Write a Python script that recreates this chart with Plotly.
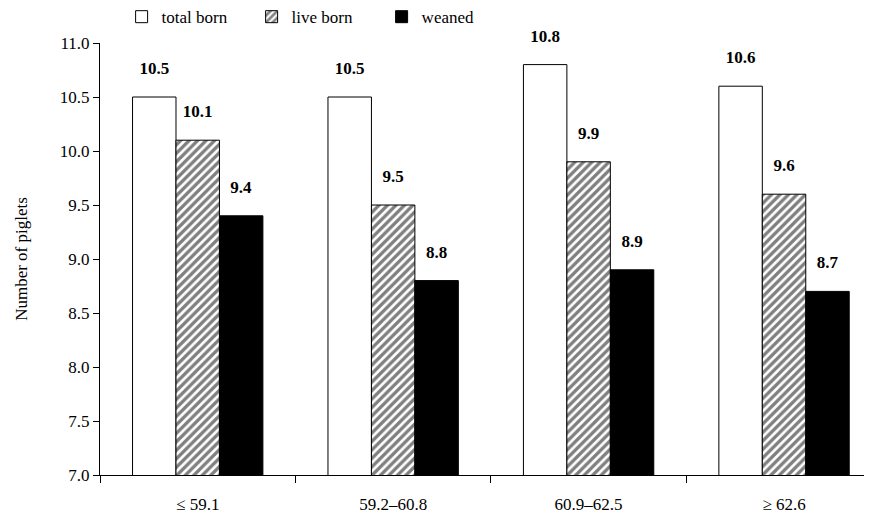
import plotly.graph_objects as go

categories = ["≤ 59.1", "59.2–60.8", "60.9–62.5", "≥ 62.6"]
total_born = [10.5, 10.5, 10.8, 10.6]
live_born = [10.1, 9.5, 9.9, 9.6]
weaned = [9.4, 8.8, 8.9, 8.7]
y_ticks = [7.0, 7.5, 8.0, 8.5, 9.0, 9.5, 10.0, 10.5, 11.0]

FONT = "Liberation Serif"

def labels(vals):
    return [f"<span style='font-size:17px'><b>{v:.1f}</b></span><br> " for v in vals]

label_font = dict(family=FONT, size=13, color="black")

fig = go.Figure()
fig.add_trace(go.Bar(
    name="total born", x=categories, y=total_born,
    marker=dict(color="white", line=dict(color="black", width=1)),
    text=labels(total_born), textposition="outside", cliponaxis=False,
    textfont=label_font,
))
fig.add_trace(go.Bar(
    name="live born", x=categories, y=live_born,
    marker=dict(color="white", line=dict(color="black", width=1),
                pattern=dict(shape="/", fgcolor="black", bgcolor="white",
                             size=6, solidity=0.55, fillmode="overlay")),
    text=labels(live_born), textposition="outside", cliponaxis=False,
    textfont=label_font,
))
fig.add_trace(go.Bar(
    name="weaned", x=categories, y=weaned,
    marker=dict(color="black", line=dict(color="black", width=1)),
    text=labels(weaned), textposition="outside", cliponaxis=False,
    textfont=label_font,
))

fig.update_layout(
    width=864, height=507,
    margin=dict(l=92, r=0, t=35, b=40, autoexpand=False),
    paper_bgcolor="white", plot_bgcolor="white",
    barmode="group", bargap=0.333, bargroupgap=0,
    font=dict(family=FONT, size=17, color="black"),
    legend=dict(orientation="h", x=0.028, y=0.982, yref="container",
                xanchor="left", yanchor="middle",
                font=dict(family=FONT, size=17), entrywidth=85, entrywidthmode="pixels",
                itemwidth=30, traceorder="normal", bgcolor="rgba(0,0,0,0)"),
    showlegend=True,
)
fig.update_traces(constraintext="none")
fig.update_xaxes(
    type="category", range=[-0.5, 3.45], tickson="boundaries",
    ticks="outside", ticklen=7, tickcolor="black", showline=True, linecolor="black",
    linewidth=1, showgrid=False, zeroline=False, tickfont=dict(family=FONT, size=17),
    ticklabelstandoff=14,
)
fig.update_yaxes(
    range=[7.0, 11.0], tickvals=y_ticks, tickformat=".1f",
    ticks="outside", ticklen=6, tickcolor="black", showline=True, linecolor="black",
    linewidth=1, showgrid=False, zeroline=False, tickfont=dict(family=FONT, size=17),
    title=dict(text="Number of piglets", font=dict(family=FONT, size=17), standoff=27),
)

fig.write_html("out.html")
